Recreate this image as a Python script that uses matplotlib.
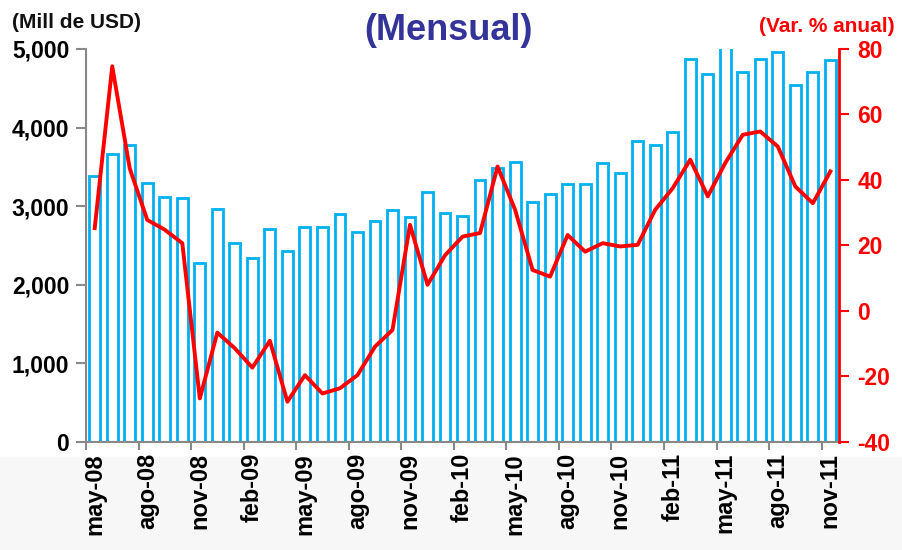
import matplotlib
matplotlib.use('Agg')
import matplotlib.pyplot as plt
from matplotlib.ticker import FuncFormatter
import numpy as np

plt.rcParams['axes.unicode_minus'] = False

# months may-08 .. nov-11
meses = ['ene', 'feb', 'mar', 'abr', 'may', 'jun', 'jul', 'ago', 'sep', 'oct', 'nov', 'dic']
labels = []
for yr in range(8, 12):
    for m in meses:
        labels.append(f'{m}-{yr:02d}')
labels = labels[4:4 + 43]

# exports, millions of USD (bars, left axis)
exports = [3390, 3660, 3775, 3290, 3120, 3110, 2275, 2960, 2525, 2345,
           2715, 2425, 2730, 2730, 2895, 2670, 2805, 2945, 2860, 3185,
           2910, 2875, 3335, 3480, 3560, 3055, 3160, 3285, 3285, 3545,
           3420, 3835, 3775, 3940, 4875, 4680, 5150, 4705, 4875, 4955,
           4540, 4705, 4860]

# annual % change (line, right axis)
var_anual = [25.3, 74.7, 43.5, 27.8, 24.8, 20.7, -26.7, -6.6, -11.4, -17.3,
             -9.1, -27.7, -19.6, -25.2, -23.6, -19.6, -10.9, -5.8, 26.3, 8.0,
             17.0, 22.7, 23.8, 44.1, 30.9, 12.5, 10.5, 23.2, 18.1, 20.7,
             19.7, 20.2, 30.9, 37.5, 46.2, 35.0, 45.2, 53.8, 54.8, 50.2,
             38.0, 32.9, 42.6]

x = np.arange(len(labels))
font = 'Liberation Sans'

fig = plt.figure(figsize=(9.02, 5.5), dpi=100, facecolor='white')
# light grey band under the chart
fig.patches.append(plt.Rectangle((0, 0), 1, 0.17, transform=fig.transFigure,
                                 color='#f7f7f7', zorder=-10))

ax = fig.add_axes([0.0953, 0.1964, 0.835, 0.7146])
ax.set_facecolor('none')
ax.bar(x, exports, width=0.62, color='white', edgecolor='#00B0F0', linewidth=2)
ax.set_ylim(0, 5000)
ax.set_xlim(-0.5, len(x) - 0.5)
ax.set_yticks(range(0, 5001, 1000))
ax.yaxis.set_major_formatter(FuncFormatter(lambda v, p: f'{int(v):,}'))

# ticks on category boundaries, labels on category centers
ax.set_xticks(np.arange(0, len(x), 3) - 0.5)
ax.set_xticklabels([])
ax.set_xticks(np.arange(0, len(x), 3), minor=True)
ax.set_xticklabels(labels[::3], minor=True, rotation=90, fontsize=17,
                   fontweight='bold', family=font)
ax.tick_params(axis='x', which='major', length=6, width=1.5, color='#888888')
ax.tick_params(axis='x', which='minor', length=0, pad=8)
ax.tick_params(axis='y', length=7, width=1.5, color='#888888', pad=5)
for t in ax.get_yticklabels():
    t.set_fontsize(16.5)
    t.set_fontweight('bold')
    t.set_family(font)

for s in ['top', 'right']:
    ax.spines[s].set_visible(False)
ax.spines['left'].set_color('#888888')
ax.spines['bottom'].set_color('#888888')
ax.spines['left'].set_linewidth(1.5)
ax.spines['bottom'].set_linewidth(1.5)

ax2 = ax.twinx()
ax2.plot(x, var_anual, color='#FF0000', linewidth=2.8)
ax2.set_ylim(-40, 80)
ax2.set_yticks(range(-40, 81, 20))
ax2.tick_params(axis='y', colors='#FF0000', length=7, width=1.5, pad=6)
for t in ax2.get_yticklabels():
    t.set_fontsize(16.5)
    t.set_fontweight('bold')
    t.set_family(font)
for s in ['top', 'left', 'bottom']:
    ax2.spines[s].set_visible(False)
ax2.spines['right'].set_color('#FF0000')
ax2.spines['right'].set_linewidth(2)

fig.text(0.497, 0.945, '(Mensual)', ha='center', va='center', fontsize=26,
         fontweight='bold', color='#333399', family=font)
fig.text(0.013, 0.96, '(Mill de USD)', ha='left', va='center', fontsize=15,
         fontweight='bold', color='#111111', family=font)
fig.text(0.992, 0.951, '(Var. % anual)', ha='right', va='center', fontsize=15,
         fontweight='bold', color='#FF0000', family=font)

plt.savefig('out.png', dpi=100)
